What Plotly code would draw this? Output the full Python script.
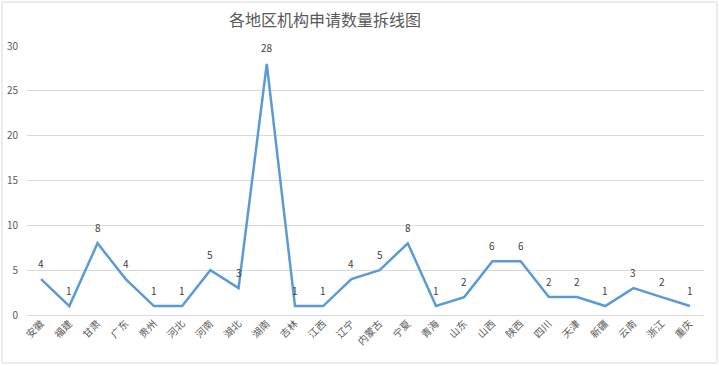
import plotly.graph_objects as go

regions = ["安徽", "福建", "甘肃", "广东", "贵州", "河北", "河南", "湖北", "湖南", "吉林", "江西", "辽宁",
           "内蒙古", "宁夏", "青海", "山东", "山西", "陕西", "四川", "天津", "新疆", "云南", "浙江", "重庆"]
counts = [4, 1, 8, 4, 1, 1, 5, 3, 28, 1, 1, 4, 5, 8, 1, 2, 6, 6, 2, 2, 1, 3, 2, 1]
title_text = "各地区机构申请数量拆线图"

font_family = "Noto Sans CJK SC, Noto Sans, sans-serif"

fig = go.Figure()
fig.add_trace(go.Scatter(
    x=regions, y=counts, mode="lines",
    line=dict(color="#5B9BD5", width=2.5),
    hoverinfo="x+y", showlegend=False,
))

for r, v in zip(regions, counts):
    fig.add_annotation(x=r, y=v, text=str(v), showarrow=False, yshift=16,
                       font=dict(size=10, color="#404040", family=font_family))

fig.update_layout(
    width=719, height=366,
    margin=dict(l=27, r=15, t=46, b=51),
    paper_bgcolor="white", plot_bgcolor="white",
    title=dict(text=title_text, x=0.452, xanchor="center", y=0.945, yanchor="middle",
               font=dict(size=16, color="#595959", family=font_family)),
    xaxis=dict(range=[-0.5, len(regions) - 0.5], tickangle=-45, showgrid=False,
               showline=False, zeroline=False, ticks="", automargin=False,
               tickfont=dict(size=10, color="#595959", family=font_family)),
    yaxis=dict(range=[0, 30], dtick=5, showgrid=True, gridcolor="#D9D9D9", gridwidth=1,
               zeroline=True, zerolinecolor="#D9D9D9", zerolinewidth=1, showline=False, ticks="",
               automargin=False, ticklabelstandoff=8,
               tickfont=dict(size=10, color="#595959", family=font_family)),
    shapes=[dict(type="rect", xref="paper", yref="paper", x0=-25/677, x1=1 + 13/677,
                 y0=-48/269, y1=1 + 44/269, line=dict(color="#D9D9D9", width=1))],
)

fig.write_html("out.html", config={"displayModeBar": False},
               post_script="document.body.style.margin='0';document.body.style.overflow='hidden';")
